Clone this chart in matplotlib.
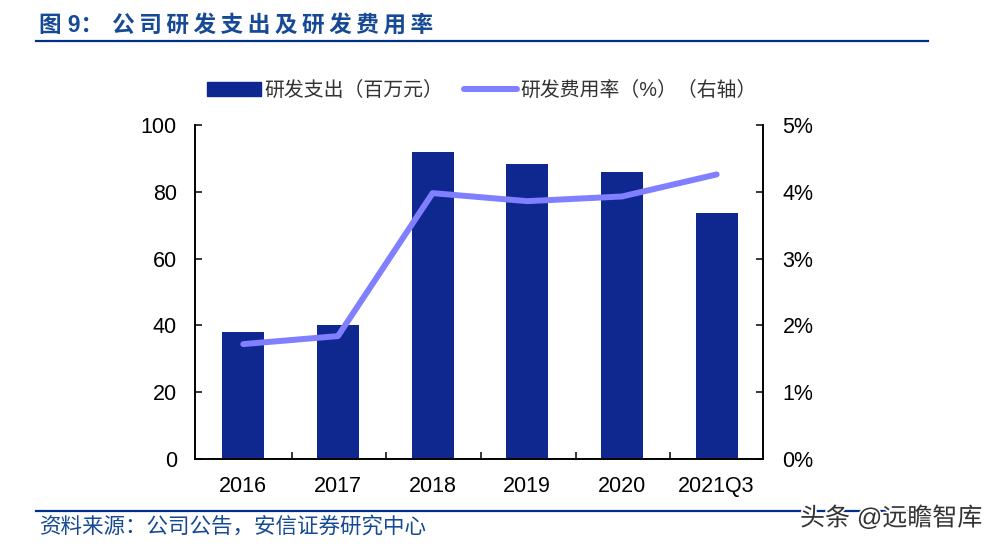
import matplotlib
matplotlib.use("Agg")
import matplotlib.pyplot as plt
import matplotlib.patheffects as pe
from matplotlib.lines import Line2D
from matplotlib.patches import Patch

categories = ["2016", "2017", "2018", "2019", "2020", "2021Q3"]
rd_spend = [38, 40.2, 92, 88.3, 86, 73.8]
rd_rate = [1.72, 1.84, 3.98, 3.86, 3.93, 4.26]
left_ticks = [0, 20, 40, 60, 80, 100]
right_ticks = [0, 1, 2, 3, 4, 5]

title_text = "图 9\uff1a\u2009\u2009" + "\u2009".join("公司研发支出及研发费用率")
source_text = "资料来源\uff1a公司公告\uff0c安信证券研究中心"
mark_text = "头条 @远瞻智库"
legend_labels = ["研发支出\uff08百万元\uff09", "研发费用率\uff08%\uff09\uff08右轴\uff09"]

bar_color = "#0f288f"
line_color = "#7f7fff"
rule_color = "#00308a"
W, H = 999.0, 547.0

plt.rcParams['font.family'] = ['Liberation Sans', 'Noto Sans CJK SC', 'DejaVu Sans']

fig = plt.figure(figsize=(9.99, 5.47), dpi=100)
ax = fig.add_axes([195 / W, 1 - 459 / H, (763 - 195) / W, (459 - 125) / H])
ax2 = ax.twinx()

x = list(range(len(categories)))
ax.bar(x, rd_spend, width=0.445, color=bar_color, zorder=2)
ax2.plot(x, rd_rate, color=line_color, lw=4.3, solid_capstyle="round", solid_joinstyle="round")

ax.set_xlim(-0.51, 5.49)
ax.set_ylim(0, 100)
ax2.set_ylim(0, 5)
ax.set_yticks(left_ticks)
ax2.set_yticks(right_ticks)
ax2.set_yticklabels([str(t) + "%" for t in right_ticks])
ax.set_xticks([i + 0.51 for i in x[:-1]], minor=False)
ax.set_xticklabels([])
ax.set_xticks(x, categories, minor=True)

ax.tick_params(axis="x", which="major", direction="in", length=5, width=1.1)
ax.tick_params(axis="x", which="minor", length=0, pad=12, labelsize=15.5)
ax.tick_params(axis="y", direction="in", length=5, width=1.1, pad=13, labelsize=15.5)
ax2.tick_params(axis="y", direction="in", length=5, width=1.1, pad=14, labelsize=15.5)
for a in (ax, ax2):
    a.spines["top"].set_visible(False)
    for s in ("left", "right", "bottom"):
        a.spines[s].set_linewidth(1.2)

# legend
handles = [Patch(color=bar_color), Line2D([0], [0], color=line_color, lw=4.3, solid_capstyle="round")]
fig.legend(handles, legend_labels, loc="center", bbox_to_anchor=(482 / W, 1 - 90.5 / H), ncol=2, frameon=False,
           fontsize=14.3, handlelength=2.7, handleheight=0.72, handletextpad=0.15, columnspacing=1.05,
           labelcolor="#333333")

# title and rules
fig.text(39 / W, 1 - 25 / H, title_text, fontsize=16.3, fontweight="bold", color="#174a96", va="center")
fig.add_artist(Line2D([36 / W, 928 / W], [1 - 41 / H] * 2, color=rule_color, lw=1.6))
fig.add_artist(Line2D([36 / W, 907 / W], [1 - 511 / H] * 2, color=rule_color, lw=1.6))
fig.text(40 / W, 1 - 527 / H, source_text, fontsize=15.5, color="#174a96", va="center")
fig.text(800 / W, 1 - 518 / H, mark_text, fontsize=18, color="#333333", va="center",
         path_effects=[pe.withStroke(linewidth=2.5, foreground="white")])

fig.savefig("out.png", dpi=100)
